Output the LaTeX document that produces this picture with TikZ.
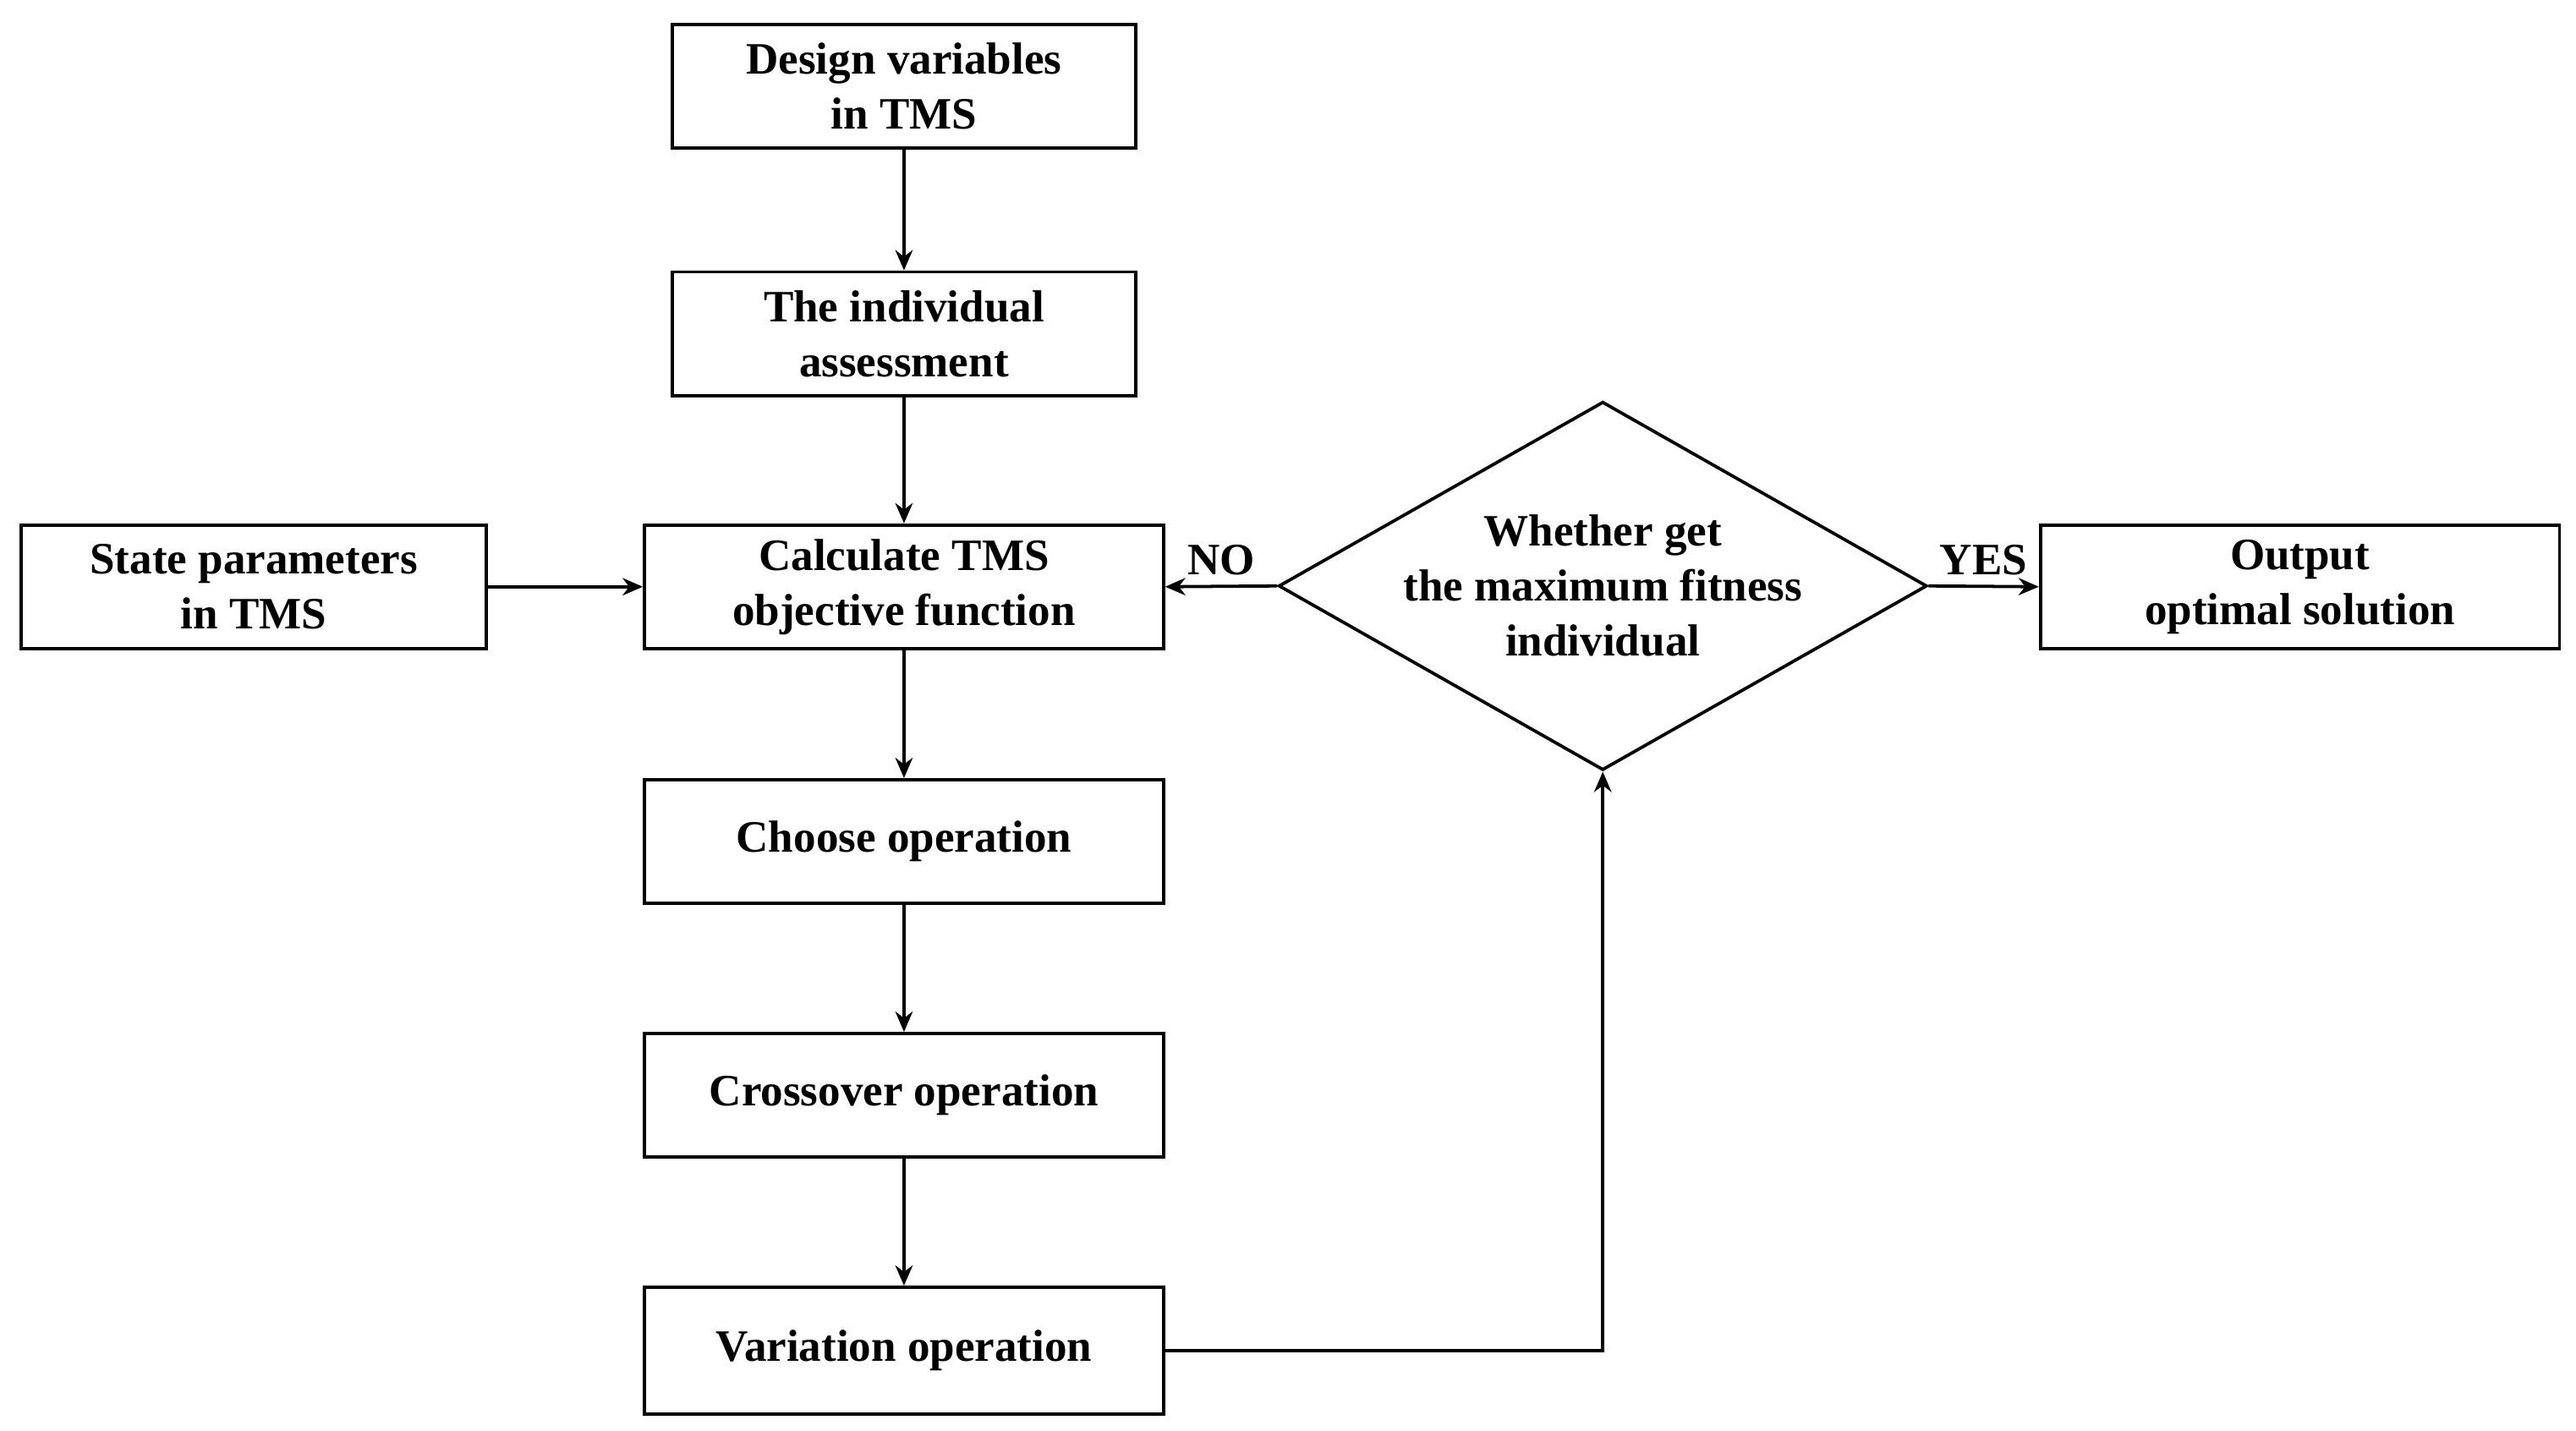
\documentclass[tikz,border=0pt]{standalone}
\usepackage{fontspec}
\setmainfont{Liberation Serif}
\usetikzlibrary{shapes.geometric,arrows.meta}
\begin{document}
\begin{tikzpicture}[x=0.02cm,y=-0.02cm,
  box/.style={draw,line width=1.1pt,minimum width=#1*0.02cm,minimum height=1.5cm,inner sep=0pt,align=center,font=\fontsize{15.5}{19}\selectfont\bfseries},
  arr/.style={line width=1.1pt,-{Stealth[length=7pt,width=6pt]}},
  lbl/.style={font=\fontsize{15.5}{19}\selectfont\bfseries}]
\useasboundingbox (0,0) rectangle (1563,868);
\node[box=281] (design) at (548.5,52.5) {Design variables\\in TMS};
\node[box=281] (indiv) at (548.5,202.5) {The individual\\assessment};
\node[box=282] (state) at (154,356) {State parameters\\in TMS};
\node[box=315] (calc) at (548.5,356) {Calculate TMS\\objective function};
\node[box=315] (choose) at (548.5,510.5) {Choose operation};
\node[box=315] (cross) at (548.5,664.5) {Crossover operation};
\node[box=315,minimum height=1.54cm] (vari) at (548.5,819.5) {Variation operation};
\node[draw,line width=1.1pt,diamond,minimum width=337*0.02cm,minimum height=191*0.02cm,inner sep=0pt,aspect=1.76,align=center,font=\fontsize{15.5}{19}\selectfont\bfseries] (dec) at (972.5,355.5) {Whether get\\the maximum fitness\\individual};
\node[box=315] (out) at (1395.5,356) {Output\\optimal solution};
\draw[arr] (design) -- (indiv);
\draw[arr] (indiv) -- (calc);
\draw[arr] (state) -- (calc);
\draw[arr] (calc) -- (choose);
\draw[arr] (choose) -- (cross);
\draw[arr] (cross) -- (vari);
\draw[arr] (vari.east) -| (dec.south);
\draw[arr] (dec.west) -- node[lbl,above]{NO} (calc.east);
\draw[arr] (dec.east) -- node[lbl,above]{YES} (out.west);
\end{tikzpicture}
\end{document}
